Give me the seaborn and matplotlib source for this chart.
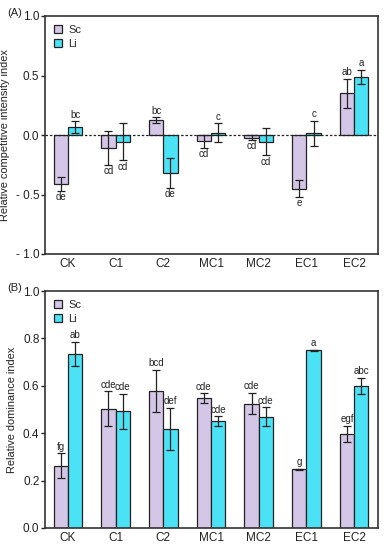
import numpy as np
import pandas as pd
import matplotlib
matplotlib.use("Agg")
import matplotlib.pyplot as plt
import seaborn as sns

categories = ["CK", "C1", "C2", "MC1", "MC2", "EC1", "EC2"]
species = ["Sc", "Li"]

# Panel A: relative competitive intensity index
rci_sc = [-0.41, -0.11, 0.125, -0.053, -0.022, -0.45, 0.35]
rci_sc_err = [0.058, 0.14, 0.025, 0.053, 0.02, 0.07, 0.123]
rci_li = [0.067, -0.056, -0.317, 0.02, -0.056, 0.014, 0.49]
rci_li_err = [0.05, 0.155, 0.125, 0.08, 0.113, 0.105, 0.058]
rci_sc_lab = ["de", "cd", "bc", "cd", "cd", "e", "ab"]
rci_li_lab = ["bc", "cd", "de", "c", "cd", "c", "a"]

# Panel B: relative dominance index
rdi_sc = [0.263, 0.503, 0.578, 0.548, 0.525, 0.247, 0.397]
rdi_sc_err = [0.053, 0.073, 0.09, 0.02, 0.045, 0.004, 0.035]
rdi_li = [0.734, 0.492, 0.418, 0.451, 0.47, 0.749, 0.599]
rdi_li_err = [0.052, 0.075, 0.09, 0.02, 0.04, 0.004, 0.035]
rdi_sc_lab = ["fg", "cde", "bcd", "cde", "cde", "g", "egf"]
rdi_li_lab = ["ab", "cde", "def", "cde", "cde", "a", "abc"]

colors = {"Sc": "#d3c6e6", "Li": "#4ce2f5"}

sns.set_style("white")
plt.rcParams["font.family"] = ["Liberation Sans", "DejaVu Sans"]

fig = plt.figure(figsize=(3.84, 5.5), dpi=100)
axA = fig.add_axes([45/384, 1-254/550, 333/384, 238/550])
axB = fig.add_axes([45/384, 1-528/550, 333/384, 237/550])


def panel(ax, sc, sce, li, lie, scl, lil, ylim, yticks, ylabel, zero_line):
    df = pd.DataFrame({
        "cat": categories * 2,
        "sp": ["Sc"] * len(categories) + ["Li"] * len(categories),
        "val": list(sc) + list(li),
    })
    sns.barplot(data=df, x="cat", y="val", hue="sp", order=categories,
                hue_order=species, palette=colors, errorbar=None,
                width=0.6, edgecolor="#222222", linewidth=0.9, ax=ax,
                saturation=1)
    span = ylim[1] - ylim[0]
    for cont, vals, errs, labs in zip(ax.containers, [sc, li], [sce, lie], [scl, lil]):
        for bar, v, e, lab in zip(cont.patches, vals, errs, labs):
            x = bar.get_x() + bar.get_width() / 2
            ax.errorbar(x, v, yerr=e, fmt="none", ecolor="#222222",
                        elinewidth=0.9, capsize=3, capthick=0.9, zorder=5)
            if v >= 0:
                ax.text(x, v + e + span * 0.006, lab, ha="center", va="bottom",
                        fontsize=7, color="#222222")
            else:
                ax.text(x, v - e - span * 0.006, lab, ha="center", va="top",
                        fontsize=7, color="#222222")
    if zero_line:
        ax.axhline(0, color="#222222", lw=0.9, ls=(0, (2, 1.5)), zorder=6)
    ax.set_ylim(*ylim)
    ax.set_xlim(-0.48, 6.5)
    ax.set_yticks(yticks)
    ax.set_yticklabels([f"{t:.1f}".replace("-", "- ") for t in yticks])
    ax.set_xlabel("")
    ax.set_ylabel(ylabel, fontsize=7.9, color="#222222", labelpad=4)
    ax.tick_params(axis="y", direction="out", length=3, width=1, labelsize=8.5,
                   left=True, colors="#222222", pad=1)
    ax.tick_params(axis="x", length=0, labelsize=8.5, colors="#222222", pad=3)
    for s in ax.spines.values():
        s.set_color("#333333")
        s.set_linewidth(1.2)
    ax.legend(loc="upper left", frameon=False, fontsize=8,
              handlelength=0.7, handleheight=0.7, handletextpad=0.6,
              labelspacing=0.35, borderaxespad=0.4)


panel(axA, rci_sc, rci_sc_err, rci_li, rci_li_err, rci_sc_lab, rci_li_lab,
      (-1.0, 1.0), [-1.0, -0.5, 0.0, 0.5, 1.0],
      "Relative competitive intensity index", True)
panel(axB, rdi_sc, rdi_sc_err, rdi_li, rdi_li_err, rdi_sc_lab, rdi_li_lab,
      (0.0, 1.0), [0.0, 0.2, 0.4, 0.6, 0.8, 1.0],
      "Relative dominance index", False)

fig.text(7/384, 1-13/550, "(A)", fontsize=8, color="#222222", va="center")
fig.text(7/384, 1-288/550, "(B)", fontsize=8, color="#222222", va="center")

fig.savefig("out.png", dpi=100)
